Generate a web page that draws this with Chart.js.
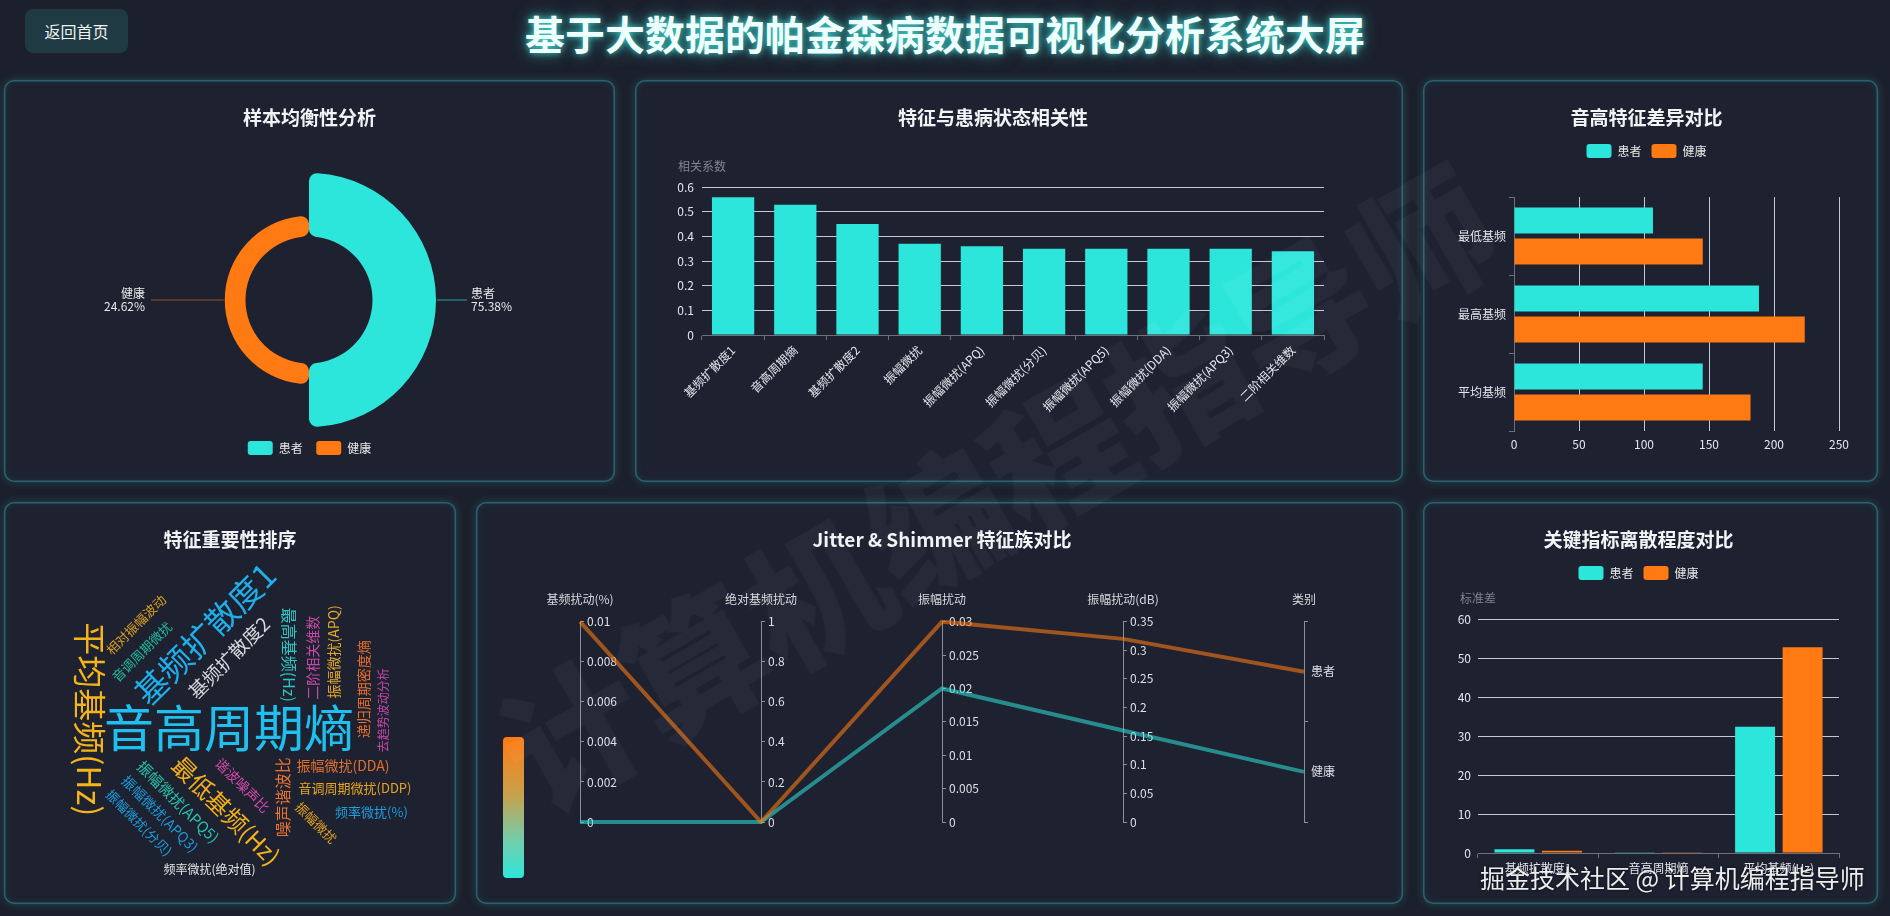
<!DOCTYPE html>
<html lang="zh-CN">
<head>
<meta charset="UTF-8">
<title>帕金森病数据可视化分析系统大屏</title>
<script src="https://cdn.jsdelivr.net/npm/chart.js@4.4.1/dist/chart.umd.min.js"></script>
<style>
  html, body { margin: 0; padding: 0; }
  body {
    width: 1890px; height: 916px; overflow: hidden; position: relative;
    background: #1c202d;
    font-family: "Noto Sans CJK SC", "Noto Sans", sans-serif; color: #fff;
  }
  .back-btn {
    position: absolute; left: 25px; top: 9px; width: 103px; height: 44px;
    border-radius: 8px; background: #1f3a42; color: #eef2f2;
    font-size: 16px; line-height: 44px; text-align: center;
  }
  .main-title {
    position: absolute; left: 0; right: 0; top: 8px; line-height: 50px;
    text-align: center; font-size: 40px; font-weight: 700; color: #effffd;
    text-shadow: 0 0 6px rgba(63, 224, 216, .9), 0 0 16px rgba(63, 224, 216, .55);
  }
  .panel {
    position: absolute; border-radius: 10px; background: #1d2130;
    box-shadow: inset 0 0 0 1.5px rgba(50, 135, 145, .6), inset 0 0 9px rgba(46, 200, 200, .16), 0 0 8px rgba(46, 200, 200, .25);
  }
  .panel .box { position: absolute; left: 0; top: 0; right: 0; bottom: 0; }
  .visual-map {
    position: absolute; left: 503px; top: 737px; width: 21px; height: 141px; border-radius: 4px;
    background: linear-gradient(to bottom, #ff7a12, #c9a04a 40%, #6fd0b0 75%, #2de6db);
  }
  .wm-big {
    position: absolute; left: 994px; top: 482px; transform: translate(-50%, -50%) rotate(-30deg);
    font-size: 140px; font-weight: 900; color: rgba(255, 255, 255, .035); white-space: nowrap; pointer-events: none;
  }
  .wm {
    position: absolute; left: 1480px; top: 861px; font-size: 25px; line-height: 32px; color: rgba(255, 255, 255, .92);
    white-space: nowrap; text-shadow: 0 0 3px rgba(0, 0, 0, .6);
  }
</style>
</head>
<body>
<div class="back-btn">返回首页</div>
<div class="main-title">基于大数据的帕金森病数据可视化分析系统大屏</div>

<div class="panel" style="left:4px;top:80px;width:611px;height:402px"><div class="box"><canvas id="balanceChart"></canvas></div></div>
<div class="panel" style="left:635px;top:80px;width:768px;height:402px"><div class="box"><canvas id="corrChart"></canvas></div></div>
<div class="panel" style="left:1423px;top:80px;width:455px;height:402px"><div class="box"><canvas id="pitchChart"></canvas></div></div>
<div class="panel" style="left:4px;top:502px;width:452px;height:402px"><div class="box"><canvas id="cloudChart"></canvas></div></div>
<div class="panel" style="left:476px;top:502px;width:927px;height:402px"><div class="box"><canvas id="parallelChart"></canvas></div></div>
<div class="panel" style="left:1423px;top:502px;width:455px;height:402px"><div class="box"><canvas id="spreadChart"></canvas></div></div>
<div class="visual-map"></div>
<div class="wm-big">计算机编程指导师</div>
<div class="wm">掘金技术社区 @ 计算机编程指导师</div>

<script>
// ---- data ----
const sampleGroups = ['患者', '健康'];
const sampleCounts = [147, 48];

const corrFeatures = ['基频扩散度1', '音高周期熵', '基频扩散度2', '振幅微扰', '振幅微扰(APQ)', '振幅微扰(分贝)',
  '振幅微扰(APQ5)', '振幅微扰(DDA)', '振幅微扰(APQ3)', '二阶相关维数'];
const corrValues = [0.558, 0.528, 0.45, 0.37, 0.36, 0.35, 0.35, 0.35, 0.35, 0.34];
const corrTicks = [0, 0.6, 0.1];

const pitchLabels = ['最低基频', '最高基频', '平均基频'];
const pitchPatient = [106.89, 188.44, 145.18];
const pitchHealthy = [145.21, 223.64, 181.94];
const pitchTicks = [0, 250, 50];

const cloudWords = ['音高周期熵', '基频扩散度1', '平均基频(Hz)', '最低基频(Hz)', '基频扩散度2', '最高基频(Hz)',
  '噪声谐波比', '振幅微扰(APQ5)', '二阶相关维数', '振幅微扰(DDA)', '振幅微扰(APQ3)', '振幅微扰(APQ)',
  '谐波噪声比', '递归周期密度熵', '音调周期微扰', '音调周期微扰(DDP)', '振幅微扰(分贝)', '振幅微扰',
  '相对振幅波动', '频率微扰(%)', '去趋势波动分析', '频率微扰(绝对值)'];
const cloudWeights = [0.142, 0.088, 0.086, 0.0585, 0.0425, 0.033, 0.032, 0.0296, 0.028, 0.0266, 0.0262, 0.026,
  0.0255, 0.0251, 0.0248, 0.0236, 0.0232, 0.0228, 0.0225, 0.0222, 0.021, 0.02];

const parallelAxes = ['基频扰动(%)', '绝对基频扰动', '振幅扰动', '振幅扰动(dB)', '类别'];
const parallelRanges = [[0, 0.01, 0.002], [0, 1, 0.2], [0, 0.03, 0.005], [0, 0.35, 0.05]];
const groupNames = ['患者', '健康'];
const patientFeatures = [0.01, 0, 0.03, 0.32];
const healthyFeatures = [0, 0, 0.02, 0.16];

const spreadLabels = ['基频扩散度1', '音高周期熵', '平均基频(Hz)'];
const spreadPatient = [0.94, 0.08, 32.35];
const spreadHealthy = [0.6, 0.04, 52.73];
const spreadTicks = [0, 60, 10];

// ---- styles ----
const TEAL = '#2de6db';
const ORANGE = '#ff7a12';
const GRID = 'rgba(224,230,241,0.85)';
const AXIS = '#6e7079';
const TICK = '#e3e5ea';
const cloudColors = ['#1fc0f0', '#1fb0ec', '#f4b41a', '#f2b01a', '#d6d8dc', '#2ec6c0', '#ea7430', '#26c4ae',
  '#c84aa8', '#e4702c', '#1c9ad8', '#e2a82a', '#d04aa8', '#e8702a', '#22bca0', '#e6a520', '#1f9fe0',
  '#e0a020', '#dca020', '#1e9fdc', '#c848a8', '#e6e6e6'];
const cloudRotations = [0, -45, 90, 45, -45, 90, -90, 45, -90, 0, 45, -90, 45, -90, -45, 0, 45, 45, -45, 0, -90, 0];

Chart.defaults.font.family = '"Noto Sans CJK SC", "Noto Sans", sans-serif';
Chart.defaults.font.size = 12;
Chart.defaults.color = TICK;
Chart.defaults.animation = false;
Chart.defaults.maintainAspectRatio = false;
Chart.defaults.plugins.tooltip.enabled = false;

const trim = v => String(parseFloat(Number(v).toFixed(6)));
const titleOpts = (text, bottom) => ({
  display: true, text, color: '#f1f3f5', font: {size: 19, weight: 'bold'}, padding: {top: 26, bottom}
});
const legendLabels = {boxWidth: 25, boxHeight: 14, useBorderRadius: true, borderRadius: 3, color: '#e6e6e6', font: {size: 12}, padding: 10};

// extra room under the legend
const legendGap = {
  id: 'legendGap',
  beforeInit(chart, args, opts) {
    const fit = chart.legend.fit;
    chart.legend.fit = function () {
      fit.call(this);
      this.height += opts.gap || 0;
    };
  }
};

// axis name above the value axis (echarts style)
const axisName = {
  id: 'axisName',
  afterDraw(chart, args, opts) {
    const {ctx, chartArea} = chart;
    ctx.save();
    ctx.font = '12px "Noto Sans CJK SC", sans-serif';
    ctx.fillStyle = '#80858f';
    ctx.textAlign = 'center';
    ctx.textBaseline = 'middle';
    ctx.fillText(opts.text, chartArea.left, chartArea.top - 21);
    ctx.restore();
  }
};

// ---- 1. sample balance (rose) ----
const roseHole = {
  id: 'roseHole',
  afterDatasetsUpdate(chart) {
    const inner = chart.scales.r.getDistanceFromCenterForValue(0);
    chart.getDatasetMeta(0).data.forEach(arc => { arc.innerRadius = inner; });
  }
};
const pieLabels = {
  id: 'pieLabels',
  afterDatasetsDraw(chart) {
    const {ctx} = chart;
    const data = chart.data.datasets[0].data;
    const total = data.reduce((a, b) => a + b, 0);
    const rMax = chart.scales.r.drawingArea;
    const colors = chart.data.datasets[0].backgroundColor;
    chart.getDatasetMeta(0).data.forEach((arc, i) => {
      const mid = (arc.startAngle + arc.endAngle) / 2;
      const cos = Math.cos(mid), sin = Math.sin(mid);
      const x1 = arc.x + cos * (arc.outerRadius + 1), y1 = arc.y + sin * (arc.outerRadius + 1);
      const x2 = arc.x + cos * (rMax + 31), y2 = arc.y + sin * (rMax + 31);
      ctx.save();
      ctx.globalAlpha = 0.55;
      ctx.strokeStyle = colors[i];
      ctx.lineWidth = 1.2;
      ctx.beginPath();
      ctx.moveTo(x1, y1);
      ctx.lineTo(x2, y2);
      ctx.stroke();
      ctx.globalAlpha = 1;
      const right = cos >= 0;
      ctx.fillStyle = '#e8e8e8';
      ctx.font = '12px "Noto Sans CJK SC", sans-serif';
      ctx.textAlign = right ? 'left' : 'right';
      ctx.textBaseline = 'middle';
      const tx = x2 + (right ? 4 : -6);
      ctx.fillText(chart.data.labels[i], tx, y2 - 7);
      ctx.fillText((data[i] / total * 100).toFixed(2) + '%', tx, y2 + 6);
      ctx.restore();
    });
  }
};

new Chart(document.getElementById('balanceChart'), {
  type: 'polarArea',
  data: {
    labels: sampleGroups,
    datasets: [{data: sampleCounts, backgroundColor: [TEAL, ORANGE], borderWidth: 0, borderRadius: 8}]
  },
  options: {
    layout: {padding: {bottom: 17}},
    scales: {r: {display: false, min: -Math.max(...sampleCounts), max: Math.max(...sampleCounts)}},
    plugins: {
      title: titleOpts('样本均衡性分析', 43.7),
      legend: {
        position: 'bottom',
        labels: {
          ...legendLabels, padding: 13.5,
          generateLabels: chart => Chart.PolarAreaController.overrides.plugins.legend.labels
            .generateLabels(chart).map(item => ({...item, borderRadius: 3, lineWidth: 0}))
        }
      }
    }
  },
  plugins: [roseHole, pieLabels]
});

// ---- 2. correlation bars ----
new Chart(document.getElementById('corrChart'), {
  type: 'bar',
  data: {
    labels: corrFeatures,
    datasets: [{label: '相关系数', data: corrValues, backgroundColor: TEAL, barPercentage: 0.68, categoryPercentage: 1}]
  },
  options: {
    layout: {padding: {left: 27, right: 79, bottom: 27}},
    plugins: {
      title: titleOpts('特征与患病状态相关性', 58.2),
      legend: {display: false},
      axisName: {text: '相关系数'}
    },
    scales: {
      x: {
        grid: {drawOnChartArea: false, tickLength: 5, color: AXIS, offset: true},
        border: {color: AXIS},
        ticks: {minRotation: 45, maxRotation: 45, autoSkip: false, padding: 3, color: TICK},
        afterFit: s => { s.height = 120; }
      },
      y: {
        min: corrTicks[0], max: corrTicks[1],
        ticks: {stepSize: corrTicks[2], padding: 8, color: TICK, callback: trim},
        grid: {color: GRID, drawTicks: false},
        border: {display: false},
        afterFit: s => { s.width = 40; }
      }
    }
  },
  plugins: [axisName]
});

// ---- 3. pitch comparison (horizontal) ----
new Chart(document.getElementById('pitchChart'), {
  type: 'bar',
  data: {
    labels: pitchLabels,
    datasets: [
      {label: '患者', data: pitchPatient, backgroundColor: TEAL},
      {label: '健康', data: pitchHealthy, backgroundColor: ORANGE}
    ]
  },
  options: {
    indexAxis: 'y',
    layout: {padding: {left: 31, right: 39, bottom: 21}},
    datasets: {bar: {categoryPercentage: 0.795, barPercentage: 0.84}},
    plugins: {
      title: titleOpts('音高特征差异对比', 5.2),
      legend: {labels: legendLabels},
      legendGap: {gap: 29}
    },
    scales: {
      x: {
        min: pitchTicks[0], max: pitchTicks[1],
        ticks: {stepSize: pitchTicks[2], padding: 6, color: TICK},
        grid: {color: GRID, drawTicks: false},
        border: {display: false},
        afterFit: s => { s.height = 30; }
      },
      y: {
        grid: {drawOnChartArea: false, tickLength: 5, color: AXIS, offset: true},
        border: {color: AXIS},
        ticks: {padding: 3, color: TICK},
        afterFit: s => { s.width = 60; }
      }
    }
  },
  plugins: [legendGap]
});

// ---- 4. word cloud ----
function wordMask(text, font, rot, G) {
  const c = document.createElement('canvas');
  const x = c.getContext('2d');
  x.font = font;
  const tw = x.measureText(text).width;
  const th = parseFloat(font) * 1.1;
  const cs = Math.abs(Math.cos(rot)), sn = Math.abs(Math.sin(rot));
  const cols = Math.ceil((tw * cs + th * sn) / G) + 2;
  const rows = Math.ceil((tw * sn + th * cs) / G) + 2;
  c.width = cols * G;
  c.height = rows * G;
  x.font = font;
  x.translate(c.width / 2, c.height / 2);
  x.rotate(rot);
  x.textAlign = 'center';
  x.textBaseline = 'middle';
  x.fillText(text, 0, 0);
  const px = x.getImageData(0, 0, c.width, c.height).data;
  const cells = [];
  for (let r = 0; r < rows; r++) {
    for (let q = 0; q < cols; q++) {
      let hit = false;
      for (let yy = 0; yy < G && !hit; yy++) {
        for (let xx = 0; xx < G; xx++) {
          if (px[((r * G + yy) * c.width + q * G + xx) * 4 + 3] > 0) { hit = true; break; }
        }
      }
      if (hit) cells.push([q, r]);
    }
  }
  return {cells, cols, rows, w: c.width, h: c.height};
}

const wordCloud = {
  id: 'wordCloud',
  afterDatasetsDraw(chart, args, opts) {
    const {ctx, chartArea: a} = chart;
    const words = chart.data.labels;
    const weights = chart.data.datasets[0].data;
    const lo = Math.min(...weights), hi = Math.max(...weights);
    const [sMin, sMax] = opts.sizeRange;
    const G = 3, gap = opts.gap;
    const cols = Math.floor(a.width / G), rows = Math.floor(a.height / G);
    const taken = new Uint8Array(cols * rows);
    const order = words.map((w, i) => i).sort((p, q) => weights[q] - weights[p]);

    order.forEach(i => {
      const size = Math.round(sMin + (weights[i] - lo) / (hi - lo) * (sMax - sMin));
      const font = size + 'px "Noto Sans CJK SC", sans-serif';
      const rot = (opts.rotations[i] || 0) * Math.PI / 180;
      const m = wordMask(words[i], font, rot, G);
      for (let t = 0; t < 12000; t++) {
        const ang = t * 0.08;
        const rad = ang * 0.45;
        // spiral starts on the left, then goes up and round
        const gx = Math.round(cols / 2 - rad * Math.cos(ang) * (cols / rows) - m.cols / 2);
        const gy = Math.round(rows / 2 - rad * Math.sin(ang) - m.rows / 2);
        let ok = true;
        for (const [q, r] of m.cells) {
          const X = gx + q, Y = gy + r;
          if (X < 0 || Y < 0 || X >= cols || Y >= rows || taken[Y * cols + X]) { ok = false; break; }
        }
        if (!ok) continue;
        for (const [q, r] of m.cells) {
          for (let dy = -gap; dy <= gap; dy++) {
            for (let dx = -gap; dx <= gap; dx++) {
              const X = gx + q + dx, Y = gy + r + dy;
              if (X >= 0 && Y >= 0 && X < cols && Y < rows) taken[Y * cols + X] = 1;
            }
          }
        }
        ctx.save();
        ctx.translate(a.left + gx * G + m.w / 2, a.top + gy * G + m.h / 2);
        ctx.rotate(rot);
        ctx.font = font;
        ctx.fillStyle = opts.colors[i];
        ctx.textAlign = 'center';
        ctx.textBaseline = 'middle';
        ctx.fillText(words[i], 0, 0);
        ctx.restore();
        break;
      }
    });
  }
};

new Chart(document.getElementById('cloudChart'), {
  type: 'bar',
  data: {labels: cloudWords, datasets: [{data: cloudWeights, backgroundColor: 'transparent'}]},
  options: {
    layout: {padding: {left: 18, right: 18, bottom: 12}},
    plugins: {
      title: titleOpts('特征重要性排序', 14),
      legend: {display: false},
      wordCloud: {sizeRange: [12, 50], colors: cloudColors, rotations: cloudRotations, gap: 1}
    },
    scales: {x: {display: false}, y: {display: false}}
  },
  plugins: [wordCloud]
});

// ---- 5. parallel coordinates ----
const parallelPlugin = {
  id: 'parallelAxes',
  afterLayout(chart) {
    const x = chart.scales.x;
    parallelAxes.forEach((name, i) => {
      const s = chart.scales['p' + i];
      const px = x.getPixelForValue(i);
      s.left = px;
      s.right = px + 90; // room for the tick labels
    });
  },
  afterDatasetsUpdate(chart) {
    chart.data.datasets.forEach((ds, di) => {
      chart.getDatasetMeta(di).data.forEach((pt, i) => {
        pt.y = chart.scales['p' + i].getPixelForValue(ds.data[i]);
      });
    });
  },
  afterDraw(chart) {
    const {ctx, chartArea} = chart;
    ctx.save();
    ctx.font = '12px "Noto Sans CJK SC", sans-serif';
    ctx.fillStyle = '#d6d9de';
    ctx.textAlign = 'center';
    ctx.textBaseline = 'middle';
    parallelAxes.forEach((name, i) => {
      ctx.fillText(name, chart.scales.x.getPixelForValue(i), chartArea.top - 22);
    });
    ctx.restore();
  }
};

const parAxisBase = {
  axis: 'y', position: 'right',
  grid: {display: true, drawOnChartArea: false, drawTicks: true, tickLength: 4, color: '#8a8f9a'},
  border: {color: '#8a8f9a'},
  ticks: {padding: 3, color: '#dcdfe4', callback: trim},
  afterFit: s => { s.width = 0; }
};
const parScales = {x: {display: false, offset: false}, y: {display: false}};
parallelRanges.forEach((r, i) => {
  parScales['p' + i] = {...parAxisBase, type: 'linear', min: r[0], max: r[1], ticks: {...parAxisBase.ticks, stepSize: r[2]}};
});
parScales['p4'] = {
  ...parAxisBase, type: 'category', labels: groupNames, offset: true,
  grid: {...parAxisBase.grid, offset: true},
  ticks: {padding: 3, color: '#dcdfe4'}
};

new Chart(document.getElementById('parallelChart'), {
  type: 'line',
  data: {
    labels: parallelAxes,
    datasets: [
      {label: '患者', data: [...patientFeatures, groupNames.indexOf('患者')], borderColor: 'rgba(255,122,18,0.58)',
        borderWidth: 4, pointRadius: 0, tension: 0, yAxisID: 'y'},
      {label: '健康', data: [...healthyFeatures, groupNames.indexOf('健康')], borderColor: 'rgba(45,230,219,0.55)',
        borderWidth: 4, pointRadius: 0, tension: 0, yAxisID: 'y'}
    ]
  },
  options: {
    layout: {padding: {left: 104, right: 99, bottom: 82}},
    plugins: {
      title: titleOpts('Jitter & Shimmer 特征族对比', 70.9),
      legend: {display: false}
    },
    scales: parScales
  },
  plugins: [parallelPlugin]
});

// ---- 6. dispersion comparison ----
new Chart(document.getElementById('spreadChart'), {
  type: 'bar',
  data: {
    labels: spreadLabels,
    datasets: [
      {label: '患者', data: spreadPatient, backgroundColor: TEAL},
      {label: '健康', data: spreadHealthy, backgroundColor: ORANGE}
    ]
  },
  options: {
    layout: {padding: {left: 15, right: 39, bottom: 21}},
    datasets: {bar: {categoryPercentage: 0.79, barPercentage: 0.84}},
    plugins: {
      title: titleOpts('关键指标离散程度对比', 5.2),
      legend: {labels: legendLabels},
      legendGap: {gap: 29},
      axisName: {text: '标准差'}
    },
    scales: {
      x: {
        grid: {drawOnChartArea: false, tickLength: 5, color: AXIS, offset: true},
        border: {color: AXIS},
        ticks: {padding: 3, maxRotation: 0, autoSkip: false, color: TICK},
        afterFit: s => { s.height = 30; }
      },
      y: {
        min: spreadTicks[0], max: spreadTicks[1],
        ticks: {stepSize: spreadTicks[2], padding: 7, color: TICK},
        grid: {color: GRID, drawTicks: false},
        border: {display: false},
        afterFit: s => { s.width = 40; }
      }
    }
  },
  plugins: [legendGap, axisName]
});
</script>
</body>
</html>
